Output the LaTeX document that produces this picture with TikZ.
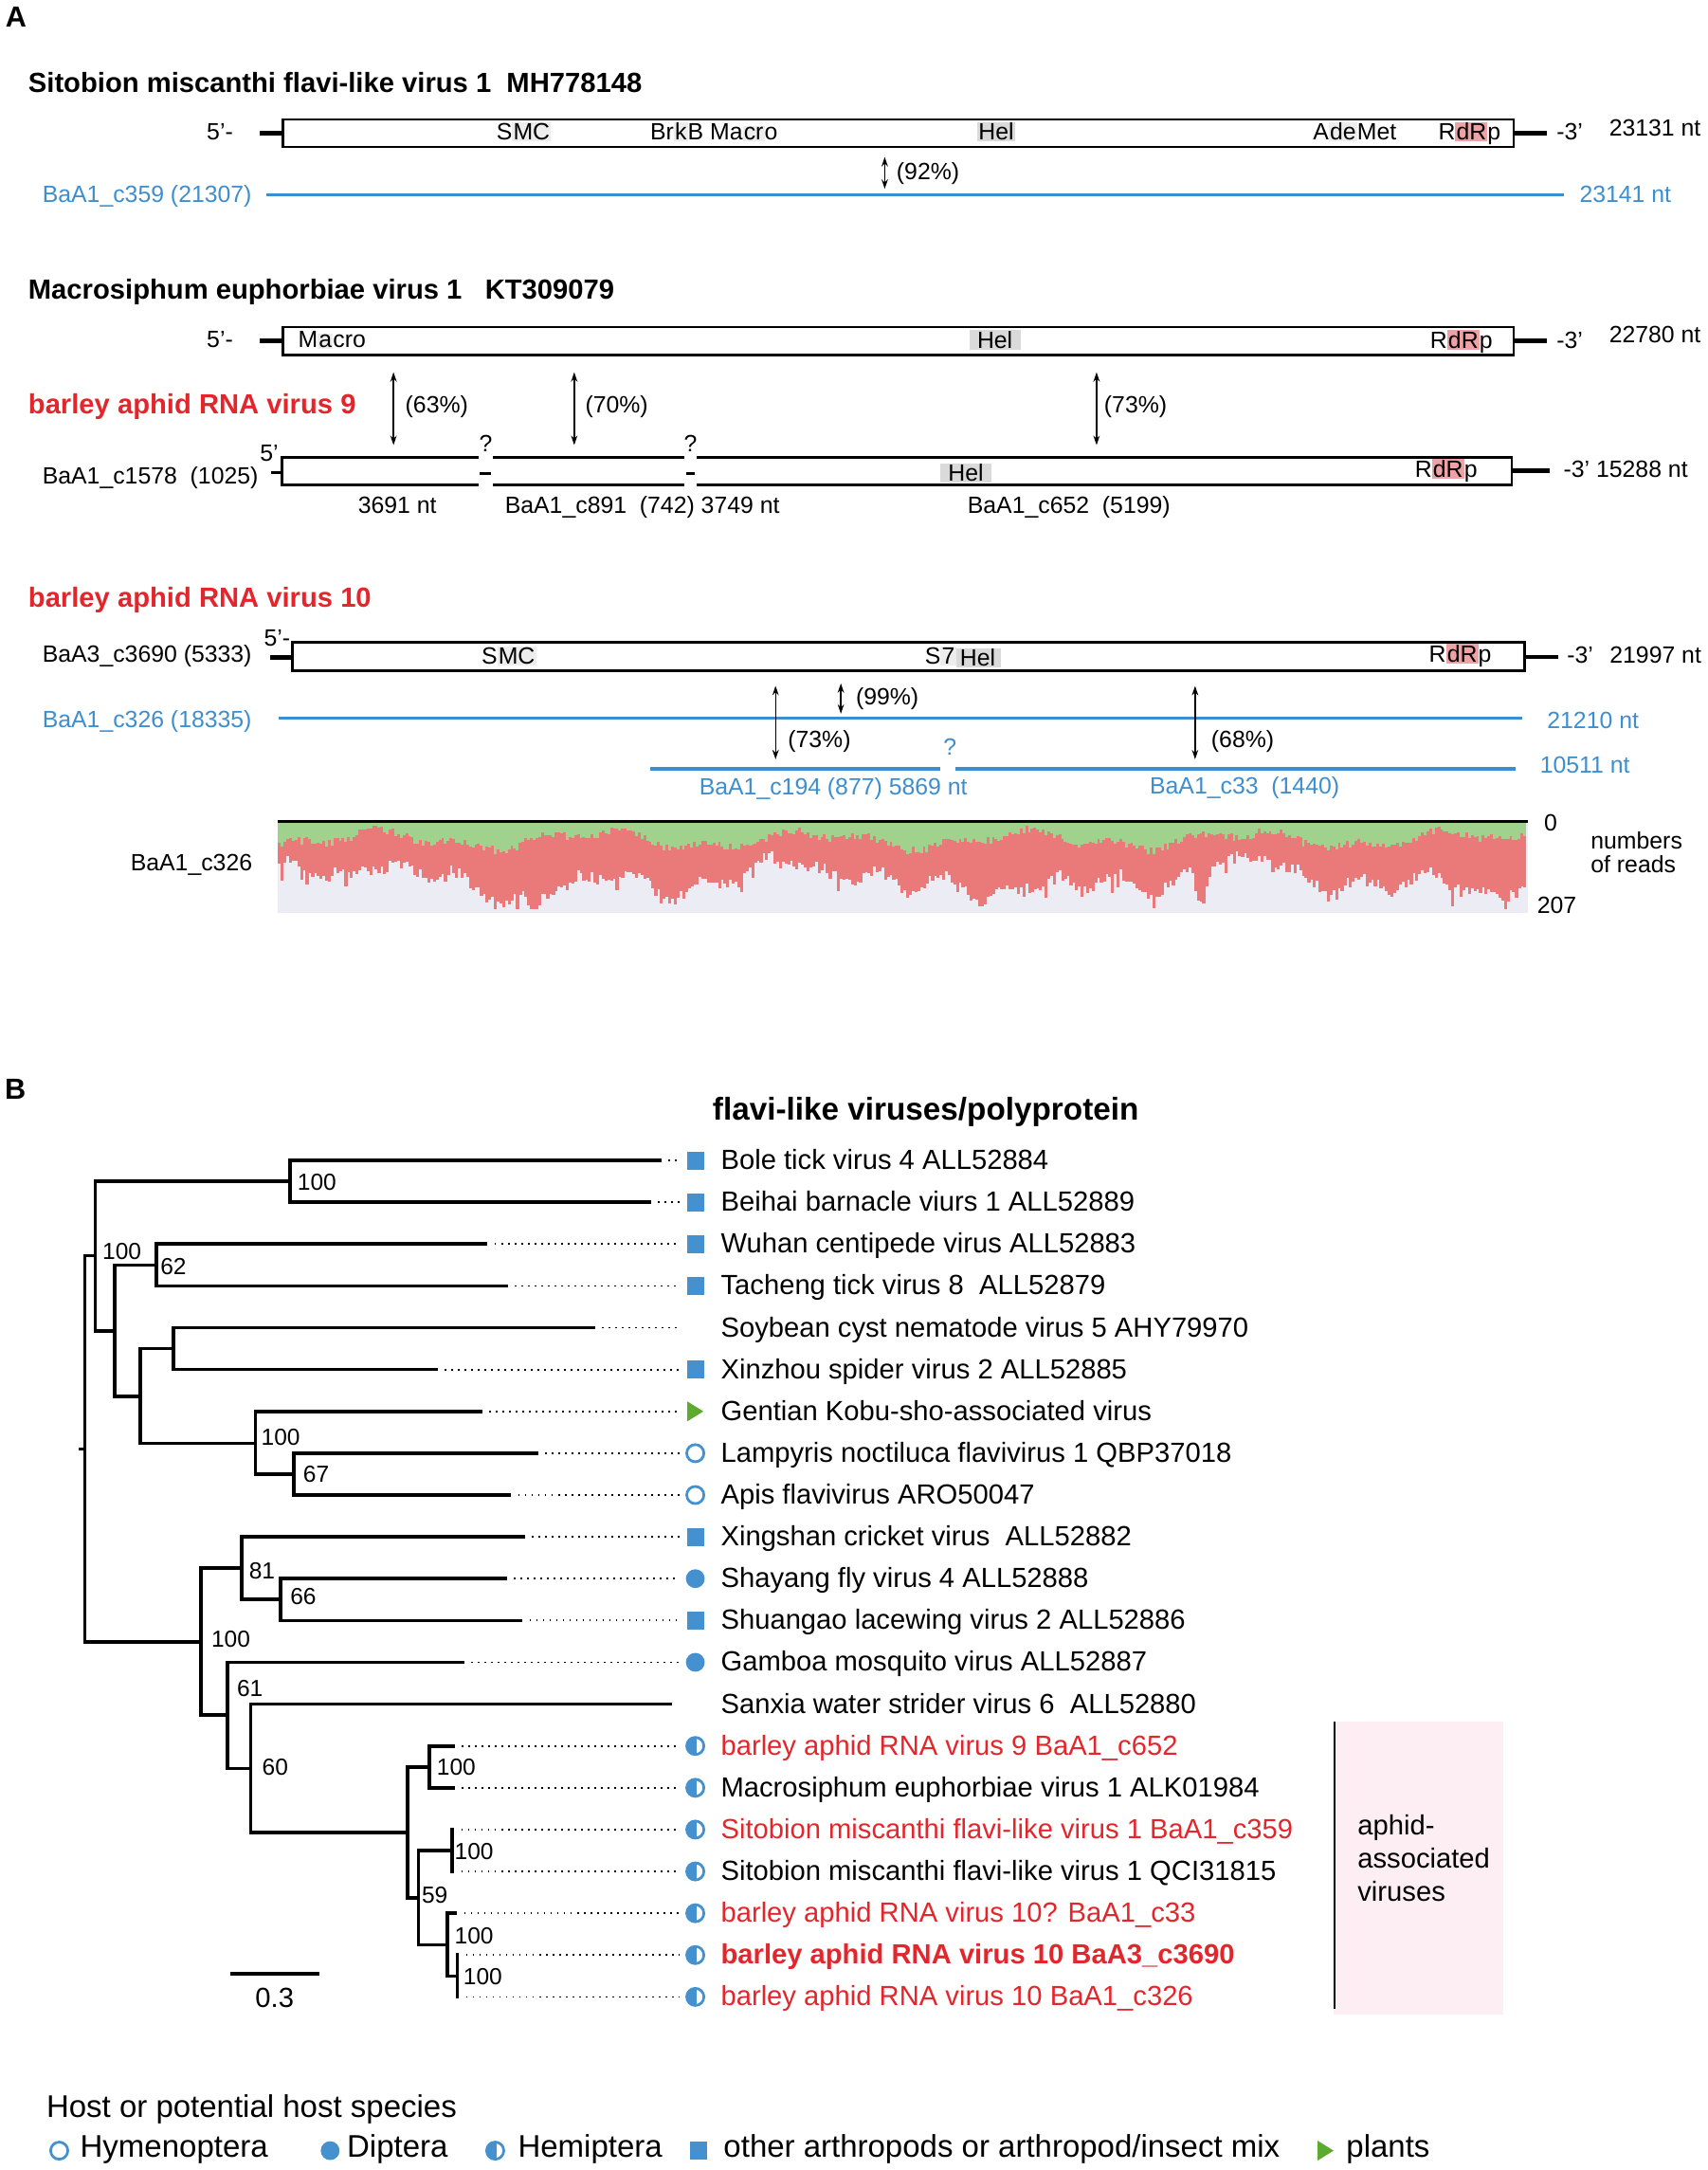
\documentclass[tikz,border=0pt]{standalone}
\usepackage{fontspec}
\setmainfont{Liberation Sans}
\usetikzlibrary{arrows.meta}
\usetikzlibrary{calc}

\definecolor{hostblue}{HTML}{4590CF}
\definecolor{seqblue}{HTML}{3D8ECE}
\definecolor{aphidred}{HTML}{E2262C}
\definecolor{plantgreen}{HTML}{5CAA2E}
\definecolor{covgreen}{HTML}{A1D28D}
\definecolor{covred}{HTML}{EA7979}
\definecolor{covbg}{HTML}{ECECF5}
\definecolor{aphidpink}{HTML}{FCEEF3}
\definecolor{hlgray}{HTML}{DADADA}
\definecolor{hlfaint}{HTML}{EDEDED}
\definecolor{hlpink}{HTML}{EFA2A5}

\newcommand{\hlbox}[2]{{\setlength{\fboxsep}{0.4pt}\colorbox{#1}{#2}}}
\newcommand{\hlwide}[2]{{\setlength{\fboxsep}{0.4pt}\colorbox{#1}{\hspace{2.5pt}#2\hspace{2.5pt}}}}

\tikzset{
  every node/.style={inner sep=0pt, outer sep=0pt},
  panel/.style={anchor=base west, font=\fontsize{10.5}{12}\selectfont\bfseries},
  seqhead/.style={anchor=base west, font=\fontsize{10}{12}\selectfont\bfseries},
  seqlbl/.style={anchor=base west, font=\fontsize{8.5}{10}\selectfont},
  domlbl/.style={anchor=base, font=\fontsize{8.5}{10}\selectfont},
  genomebox/.style={line width=0.75pt},
  endline/.style={line width=1.6pt},
  contig/.style={seqblue, line width=1.2pt},
  pctarrow/.style={arrows={Stealth[length=3.4pt,width=2.3pt]-Stealth[length=3.4pt,width=2.3pt]}, line width=0.5pt},
  branch/.style={line width=1.25pt},
  leader/.style={line width=0.6pt, dash pattern=on 0.6pt off 1.8pt},
  tiplbl/.style={anchor=base west, font=\fontsize{10}{12}\selectfont},
  tipred/.style={tiplbl, text=aphidred},
  tipbold/.style={tiplbl, text=aphidred, font=\fontsize{10}{12}\selectfont\bfseries},
  supp/.style={anchor=west, font=\fontsize{8.4}{10}\selectfont},
  leglbl/.style={anchor=base west, font=\fontsize{11.3}{13}\selectfont},
  symsq/.style={rectangle, fill=hostblue, minimum width=6.2pt, minimum height=6.5pt},
  symdot/.style={circle, fill=hostblue, minimum size=6.8pt},
  symring/.style={circle, draw=hostblue, line width=0.95pt, minimum size=6.2pt},
  symhalf/.style={circle, draw=hostblue, line width=0.95pt, minimum size=6.2pt,
    path picture={\fill[hostblue] (path picture bounding box.south west) rectangle ([xshift=0.5pt]path picture bounding box.north);}},
  symtri/.style={rectangle, minimum width=5.8pt, minimum height=7.2pt,
    path picture={\fill[plantgreen] (path picture bounding box.north west) -- (path picture bounding box.east) -- (path picture bounding box.south west) -- cycle;}},
  symnone/.style={minimum size=6pt}
}

\begin{document}
\begin{tikzpicture}[x=0.5pt,y=-0.5pt]
\useasboundingbox (0,0) rectangle (1234,1568);

% ---------------- A ----------------
\node[panel] (pA) at (4,19.4) {A};

% Sitobion miscanthi flavi-like virus 1
\node[seqhead] (h1) at (20.5,67) {Sitobion miscanthi flavi-like virus 1\ \ MH778148};
\draw[genomebox] (204.5,86.3) rectangle (1094,106.4);
\draw[endline] (188,96.4) -- (204.5,96.4);
\draw[endline] (1094,96.4) -- (1118,96.4);
\node[seqlbl] (f1) at (149.5,101) {5’-};
\node[domlbl] (d1a) at (378.5,101.2) {S\hlbox{hlfaint}{MC}};
\node[seqlbl] (d1b) at (470,101.2) {Br\hlbox{hlfaint}{k}B Ma\hlbox{hlfaint}{cr}o};
\node[domlbl] (d1c) at (720,101.2) {\hlbox{hlgray}{Hel}};
\node[seqlbl] (d1d) at (949,101.2) {A\hlbox{hlfaint}{de}Met};
\node[seqlbl] (d1e) at (1039.5,101.2) {R\hlbox{hlpink}{dR}p};
\node[seqlbl] (r1) at (1125,101) {-3’};
\node[seqlbl] (n1l) at (1163,98) {23131 nt};

\draw[contig] (192.7,140.7) -- (1130,140.7);
\node[seqlbl, text=seqblue] (c359) at (30.7,146.2) {BaA1\_c359 (21307)};
\node[seqlbl, text=seqblue] (c359n) at (1141.6,146) {23141 nt};
\coordinate (p92a) at (639.4,113.5);
\coordinate (p92b) at (639.4,136.4);
\draw[pctarrow] (p92a) -- (p92b);
\node[seqlbl] (p92) at (648,130) {(92\%)};

% Macrosiphum euphorbiae virus 1
\node[seqhead] (h2) at (20.5,216) {Macrosiphum euphorbiae virus 1\ \ \ KT309079};
\draw[genomebox] (204.5,236.3) rectangle (1094,256.6);
\draw[endline] (188,246.3) -- (204.5,246.3);
\draw[endline] (1094,246.3) -- (1118,246.3);
\node[seqlbl] (f2) at (149.5,251.2) {5’-};
\node[seqlbl] (d2a) at (215.5,251.2) {M\hlbox{hlfaint}{a}cro};
\node[domlbl] (d2b) at (719,251.7) {\hlwide{hlgray}{Hel}};
\node[seqlbl] (d2c) at (1033.6,251.7) {R\hlbox{hlpink}{dR}p};
\node[seqlbl] (r2) at (1125,251.7) {-3’};
\node[seqlbl] (n2l) at (1163,247.8) {22780 nt};

% barley aphid RNA virus 9
\node[seqhead, text=aphidred] (h3) at (20.5,299.2) {barley aphid RNA virus 9};
\coordinate (p63a) at (284.4,269);  \coordinate (p63b) at (284.4,321.6);
\coordinate (p70a) at (415,269);    \coordinate (p70b) at (415,321.6);
\coordinate (p73a) at (792.5,269);  \coordinate (p73b) at (792.5,321.6);
\draw[pctarrow] (p63a) -- (p63b);
\draw[pctarrow] (p70a) -- (p70b);
\draw[pctarrow] (p73a) -- (p73b);
\node[seqlbl] (p63) at (293,298) {(63\%)};
\node[seqlbl] (p70) at (423,298) {(70\%)};
\node[seqlbl] (p73) at (798,298) {(73\%)};

\draw[genomebox, line width=1pt] (203.8,330.3) rectangle (1092.6,350.6);
\fill[white] (346,326) rectangle (356,354);
\fill[white] (494.8,326) rectangle (503.6,354);
\draw[line width=1.1pt] (346.5,342) -- (354.6,342);
\draw[line width=1.1pt] (496,342) -- (502,342);
\draw[line width=1.2pt] (195.6,341.4) -- (203.8,341.4);
\draw[endline] (1092.6,340.3) -- (1120,340.3);
\node[seqlbl] (f3) at (188,333) {5’};
\node[seqlbl] (c1578) at (30.7,349.4) {BaA1\_c1578\ \ (1025)};
\node[domlbl] (q1) at (351,326.6) {?};
\node[domlbl] (q2) at (499,326.6) {?};
\node[domlbl] (d3a) at (698,347.8) {\hlwide{hlgray}{Hel}};
\node[seqlbl] (d3b) at (1022.6,344.9) {R\hlbox{hlpink}{dR}p};
\node[seqlbl] (r3) at (1130,344.9) {-3’ 15288 nt};
\node[seqlbl] (s3a) at (258.8,371) {3691 nt};
\node[seqlbl] (s3b) at (365,371) {BaA1\_c891\ \ (742) 3749 nt};
\node[seqlbl] (s3c) at (699.3,371) {BaA1\_c652\ \ (5199)};

% barley aphid RNA virus 10
\node[seqhead, text=aphidred] (h4) at (20.5,438.5) {barley aphid RNA virus 10};
\draw[genomebox, line width=1pt] (211.2,464.3) rectangle (1101.6,484.9);
\draw[endline] (195.5,475) -- (211.2,475);
\draw[endline] (1101.6,474.6) -- (1126,474.6);
\node[seqlbl] (f4) at (190.8,467) {5’-};
\node[seqlbl] (c3690) at (30.7,478.5) {BaA3\_c3690 (5333)};
\node[domlbl] (d4a) at (367.7,479.6) {S\hlbox{hlfaint}{MC}};
\node[seqlbl] (d4b) at (668.5,480) {S\hlbox{hlfaint}{7}};
\node[seqlbl] (d4c) at (691.5,481.4) {\hlbox{hlgray}{\hspace{0.8pt}Hel\hspace{1.5pt}}};
\node[seqlbl] (d4d) at (1032.8,478.5) {R\hlbox{hlpink}{dR}p};
\node[seqlbl] (r4) at (1132.6,479) {-3’};
\node[seqlbl] (n4l) at (1163.4,479) {21997 nt};

\draw[contig] (201.4,518.9) -- (1100.4,518.9);
\node[seqlbl, text=seqblue] (c326) at (30.7,525.7) {BaA1\_c326 (18335)};
\node[seqlbl, text=seqblue] (c326n) at (1118.2,526.4) {21210 nt};
\coordinate (p99a) at (607.7,493.8);  \coordinate (p99b) at (607.7,515.7);
\coordinate (p73c) at (560.5,495.6);  \coordinate (p73d) at (560.5,548.6);
\coordinate (p68a) at (863.7,495.6);  \coordinate (p68b) at (863.7,548.6);
\draw[pctarrow] (p99a) -- (p99b);
\draw[pctarrow] (p73c) -- (p73d);
\draw[pctarrow] (p68a) -- (p68b);
\node[seqlbl] (p99) at (618.6,509.3) {(99\%)};
\node[seqlbl] (p73x) at (569.5,540.1) {(73\%)};
\node[seqlbl] (p68) at (875.4,540) {(68\%)};

\draw[contig] (470,555.4) -- (679.6,555.4);
\draw[contig] (690.6,555.4) -- (1095.6,555.4);
\node[domlbl, text=seqblue] (q3) at (686.5,545.9) {?};
\node[seqlbl, text=seqblue] (c33n) at (1113,558.4) {10511 nt};
\node[seqlbl, text=seqblue] (c194) at (505.4,574.4) {BaA1\_c194 (877) 5869 nt};
\node[seqlbl, text=seqblue] (c33) at (831,574) {BaA1\_c33\ \ (1440)};

% read coverage
\fill[covbg] (201,594) rectangle (1104,659.6);
\pgfmathsetseed{1234}
\foreach \x in {202,204,...,1102}{
  \pgfmathsetmacro\ytop{max(596,604+5*sin(2.3*\x)+3*sin(6.1*\x+40)+6*rnd)}
  \pgfmathsetmacro\ybot{min(657,\ytop+25+7*sin(1.1*\x)+5*sin(3.1*\x)+4*sin(8.3*\x+20)+8*rnd+ifthenelse(rnd>0.9,12*rnd,0)+max(0,20-3*abs(\x-385))+max(0,22-3*abs(\x-868)))}
  \draw[covgreen, line width=1.1pt] (\x,594.5) -- (\x,\ytop);
  \draw[covred, line width=1.1pt] (\x,\ytop) -- (\x,\ybot);
}
\draw[line width=1pt] (200.6,593.4) -- (1104.4,593.4);
\node[seqlbl] (cov) at (94.4,629.2) {BaA1\_c326};
\node[seqlbl] (cov0) at (1116,600.7) {0};
\node[seqlbl] (covl1) at (1149.7,613.2) {numbers};
\node[seqlbl] (covl2) at (1149.7,630.4) {of reads};
\node[seqlbl] (cov207) at (1111,660) {207};

% ---------------- B ----------------
\node[panel] (pB) at (3.5,794) {B};
\node[anchor=base west, font=\fontsize{11.4}{13}\selectfont\bfseries] (tt) at (515.1,809.6) {flavi-like viruses/polyprotein};

% tips
\foreach \i/\bx/\sym/\sty/\txt in {
  1/478.2/symsq/tiplbl/Bole tick virus 4 ALL52884,
  2/470.6/symsq/tiplbl/Beihai barnacle viurs 1 ALL52889,
  3/352.4/symsq/tiplbl/Wuhan centipede virus ALL52883,
  4/367.1/symsq/tiplbl/Tacheng tick virus 8\ \ ALL52879,
  5/430/symnone/tiplbl/Soybean cyst nematode virus 5 AHY79970,
  6/316.4/symsq/tiplbl/Xinzhou spider virus 2 ALL52885,
  7/348.6/symtri/tiplbl/Gentian Kobu-sho-associated virus,
  8/389.1/symring/tiplbl/Lampyris noctiluca flavivirus 1 QBP37018,
  9/369.5/symring/tiplbl/Apis flavivirus ARO50047,
  10/379.3/symsq/tiplbl/Xingshan cricket virus\ \ ALL52882,
  11/366.4/symdot/tiplbl/Shayang fly virus 4 ALL52888,
  12/377.6/symsq/tiplbl/Shuangao lacewing virus 2 ALL52886,
  13/335.6/symdot/tiplbl/Gamboa mosquito virus ALL52887,
  14/486/symnone/tiplbl/Sanxia water strider virus 6\ \ ALL52880,
  15/328.6/symhalf/tipred/barley aphid RNA virus 9 BaA1\_c652,
  16/328.6/symhalf/tiplbl/Macrosiphum euphorbiae virus 1 ALK01984,
  17/328.4/symhalf/tipred/Sitobion miscanthi flavi-like virus 1 BaA1\_c359,
  18/328.4/symhalf/tiplbl/Sitobion miscanthi flavi-like virus 1 QCI31815,
  19/330.4/symhalf/tipred/barley aphid RNA virus 10? BaA1\_c33,
  20/331.8/symhalf/tipbold/barley aphid RNA virus 10 BaA3\_c3690,
  21/331.8/symhalf/tipred/barley aphid RNA virus 10 BaA1\_c326}{
  \pgfmathsetmacro\ty{838.5+30.22*(\i-1)}
  \coordinate (e\i) at (\bx,\ty);
  \coordinate (d\i) at (491,\ty);
  \node[\sym] (s\i) at (502.5,\ty) {};
  \node[\sty] (l\i) at (521,{\ty+6.5}) {\txt};
  \draw[leader] ([xshift=2.5pt]e\i) -- (d\i);
}

% inner nodes
\coordinate (r0) at (57,1047);
\coordinate (r)  at (61.2,1047);
\coordinate (n1) at (68.9,907.4);
\coordinate (n2) at (209.8,853.6);
\coordinate (n3) at (82.9,961.7);
\coordinate (n4) at (112.9,914.1);
\coordinate (n5) at (101.4,1008.9);
\coordinate (n6) at (125.2,974.5);
\coordinate (n7) at (184.6,1043);
\coordinate (n8) at (212.2,1065.2);
\coordinate (m1) at (145,1186.5);
\coordinate (m2) at (174.8,1133);
\coordinate (m3) at (202.8,1155.8);
\coordinate (m4) at (164.3,1239.2);
\coordinate (m5) at (181.1,1277.8);
\coordinate (m6) at (294.7,1324);
\coordinate (m7) at (310.4,1276.7);
\coordinate (m8) at (302.4,1371.5);
\coordinate (m9) at (326.9,1337.1);
\coordinate (m10) at (323.4,1405.4);
\coordinate (m11) at (330.4,1427.8);

\draw[branch] (r0) -- (r);
\path[branch, draw]
  (r) |- (n1)  (r) |- (m1)
  (n1) |- (n2)  (n1) |- (n3)
  (n2) |- (e1)  (n2) |- (e2)
  (n3) |- (n4)  (n3) |- (n5)
  (n4) |- (e3)  (n4) |- (e4)
  (n5) |- (n6)  (n5) |- (n7)
  (n6) |- (e5)  (n6) |- (e6)
  (n7) |- (e7)  (n7) |- (n8)
  (n8) |- (e8)  (n8) |- (e9)
  (m1) |- (m2)  (m1) |- (m4)
  (m2) |- (e10) (m2) |- (m3)
  (m3) |- (e11) (m3) |- (e12)
  (m4) |- (e13) (m4) |- (m5)
  (m5) |- (e14) (m5) |- (m6)
  (m6) |- (m7)  (m6) |- (m8)
  (m7) |- (e15) (m7) |- (e16)
  (m8) |- (m9)  (m8) |- (m10)
  (m9) |- (e17) (m9) |- (e18)
  (m10) |- (e19) (m10) |- (m11)
  (m11) |- (e20) (m11) |- (e21);

% support values
\node[supp] (b1) at (215,854.5) {100};
\node[supp] (b2) at (74.1,904) {100};
\node[supp] (b3) at (116,915.3) {62};
\node[supp] (b4) at (188.8,1038.3) {100};
\node[supp] (b5) at (219.2,1065.3) {67};
\node[supp] (b6) at (180,1134.8) {81};
\node[supp] (b7) at (209.8,1153.7) {66};
\node[supp] (b8) at (152.8,1184.2) {100};
\node[supp] (b9) at (171.3,1220.3) {61};
\node[supp] (b10) at (189.5,1277.2) {60};
\node[supp] (b11) at (315.7,1277.2) {100};
\node[supp] (b12) at (304.9,1369.2) {59};
\node[supp] (b13) at (328.6,1337.8) {100};
\node[supp] (b14) at (328.6,1398.9) {100};
\node[supp] (b15) at (334.9,1428.6) {100};

% scale bar
\coordinate (sb1) at (166.4,1426.3);
\coordinate (sb2) at (230.7,1426.3);
\draw[branch] (sb1) -- (sb2);
\node[anchor=base, font=\fontsize{10}{12}\selectfont] (sbl) at (198.5,1450.3) {0.3};

% aphid-associated viruses
\fill[aphidpink] (963.9,1244.3) rectangle (1086.2,1455.3);
\coordinate (ab1) at (964.7,1244.3);
\coordinate (ab2) at (964.7,1451.4);
\draw[line width=0.6pt] (ab1) -- (ab2);
\node[tiplbl] (a1) at (981.2,1325.5) {aphid-};
\node[tiplbl] (a2) at (981.2,1349.5) {associated};
\node[tiplbl] (a3) at (981.2,1373.8) {viruses};

% legend
\node[leglbl] (lg) at (33.6,1529.8) {Host or potential host species};
\node[symring] (lg1s) at (42.8,1554) {};
\node[leglbl] (lg1) at (58,1558.8) {Hymenoptera};
\node[symdot] (lg2s) at (238.6,1554) {};
\node[leglbl] (lg2) at (250.8,1558.8) {Diptera};
\node[symhalf] (lg3s) at (357.9,1554) {};
\node[leglbl] (lg3) at (374.4,1558.8) {Hemiptera};
\node[symsq] (lg4s) at (504.7,1554) {};
\node[leglbl] (lg4) at (523,1558.8) {other arthropods or arthropod/insect mix};
\node[symtri] (lg5s) at (958,1554) {};
\node[leglbl] (lg5) at (973,1558.8) {plants};
\end{tikzpicture}
\end{document}
